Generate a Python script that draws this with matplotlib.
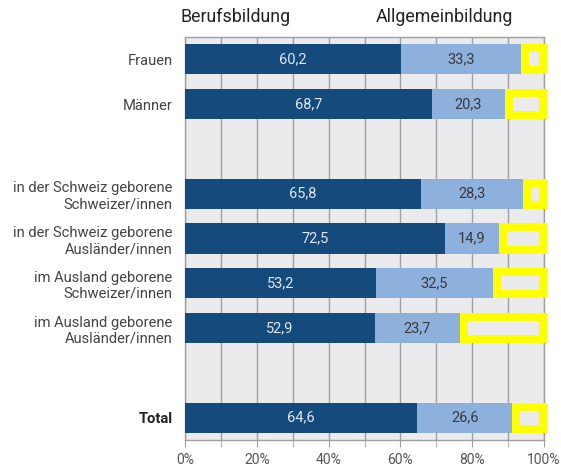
import matplotlib
matplotlib.use("Agg")
import matplotlib.pyplot as plt
import numpy as np

plt.rcParams['font.family'] = ['Roboto', 'DejaVu Sans']

categories = ["Frauen", "Männer", "", "in der Schweiz geborene\nSchweizer/innen",
              "in der Schweiz geborene\nAusländer/innen", "im Ausland geborene\nSchweizer/innen",
              "im Ausland geborene\nAusländer/innen", "", "Total"]
beruf = [60.2, 68.7, None, 65.8, 72.5, 53.2, 52.9, None, 64.6]
allgemein = [33.3, 20.3, None, 28.3, 14.9, 32.5, 23.7, None, 26.6]
xticks = [0, 20, 40, 60, 80, 100]
xtick_labels = ["0%", "20%", "40%", "60%", "80%", "100%"]
series_names = ["Berufsbildung", "Allgemeinbildung"]

DARK = "#154a7c"
LIGHT = "#8db0dc"
YELLOW = "#ffff00"
BG = "#ebebee"
GRID = "#a0a0a0"

fig = plt.figure(figsize=(5.61, 4.72), dpi=100)
ax = fig.add_axes([185/561, 1-440/472, (544-185)/561, (440-37)/472])
ax.set_facecolor(BG)

n = len(categories)
ypos = np.arange(n)
h = 0.67
px_x = 100/359.0
px_y = 1/44.8
lw_px = 8

for y, b, a in zip(ypos, beruf, allgemein):
    if b is None:
        continue
    rest_left = b + a
    ax.barh(y, 100 + 2.7*px_x - rest_left, left=rest_left, height=h, color=YELLOW,
            zorder=3, clip_on=False)
    ax.barh(y, 100 + 2.7*px_x - rest_left - 2*lw_px*px_x, left=rest_left + lw_px*px_x,
            height=h - 2*lw_px*px_y, color=BG, zorder=4, clip_on=False)
    ax.barh(y, b, left=0, height=h, color=DARK, zorder=5)
    ax.barh(y, a, left=b, height=h, color=LIGHT, zorder=5)
    ax.text(b/2, y, f"{b:.1f}".replace(".", ","), ha="center", va="center",
            color="#dfe6f0", fontsize=10.5, zorder=6)
    ax.text(b + a/2, y, f"{a:.1f}".replace(".", ","), ha="center", va="center",
            color="#3a3a3a", fontsize=10.5, zorder=6)

ax.set_xlim(0, 100)
ax.set_ylim(n - 0.5, -0.5)
ax.set_xticks(np.arange(0, 101, 10), minor=True)
ax.set_xticks(xticks)
ax.set_xticklabels(xtick_labels, fontsize=10, color="#555555")
ax.tick_params(axis="x", which="both", length=5, color=GRID, direction="out", pad=4)
ax.set_yticks(ypos)
ax.set_yticklabels(categories, fontsize=10.6, color="#444444", linespacing=1.2)
ax.tick_params(axis="y", length=0, pad=9)
for lbl in ax.get_yticklabels():
    if lbl.get_text() == "Total":
        lbl.set_fontweight("bold")
        lbl.set_color("#222222")
ax.grid(axis="x", which="both", color=GRID, linewidth=1, zorder=0)
ax.set_axisbelow(True)
for s in ax.spines.values():
    s.set_color(GRID)
    s.set_linewidth(1)

fig.text(181/561, 1-17/472, series_names[0], fontsize=12.8, color="#222222",
         ha="left", va="center")
fig.text(376/561, 1-17/472, series_names[1], fontsize=12.8, color="#222222",
         ha="left", va="center")

fig.savefig("out.png", dpi=100)
